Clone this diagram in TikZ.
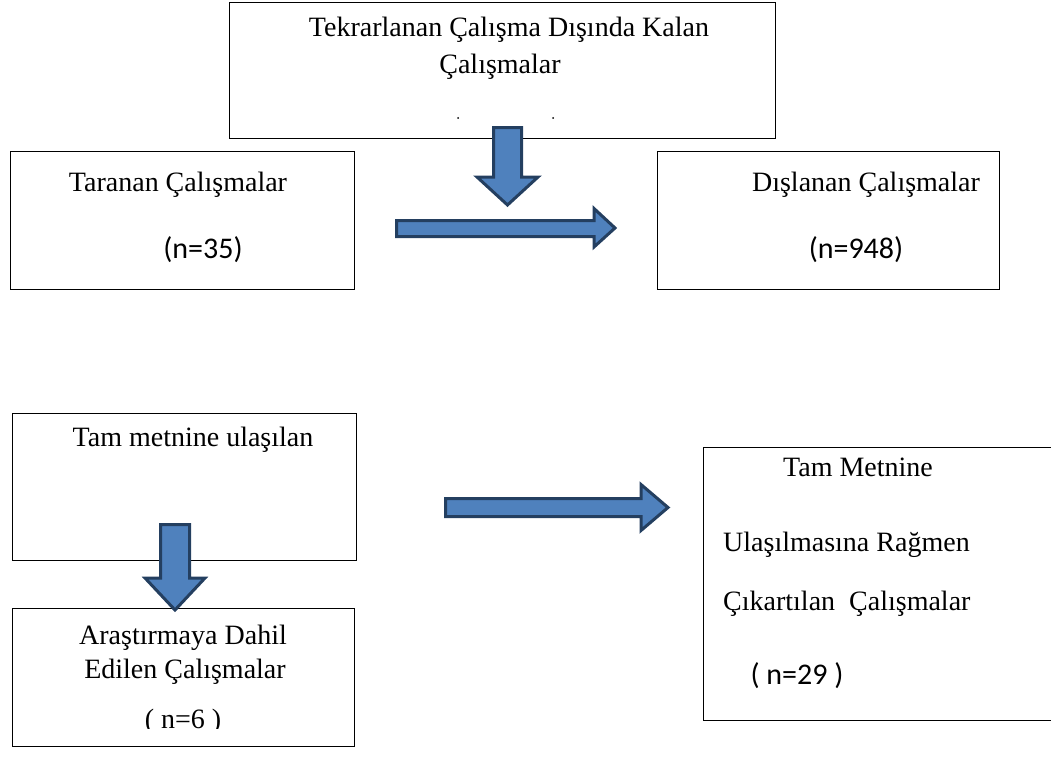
\documentclass[tikz,border=0pt]{standalone}
\usepackage{fontspec}
\setmainfont{Liberation Serif}
\newfontfamily\calib{Carlito}
\begin{document}
\begin{tikzpicture}[x=1pt,y=-1pt,
  box/.style={draw=black,line width=1pt,fill=none},
  txt/.style={inner sep=0pt,font=\fontsize{28}{32}\selectfont},
  ltxt/.style={txt,anchor=west},
  num/.style={inner sep=0pt,font=\calib\fontsize{30}{34}\selectfont},
  blockarrow/.style={draw=arrowline,fill=arrowfill,line width=3pt,line join=miter}]
\definecolor{arrowfill}{HTML}{4F81BD}
\definecolor{arrowline}{HTML}{243F60}
\useasboundingbox (0,0) rectangle (1051,757);
% boxes
\draw[box] (229,3) rectangle (775,138);
\draw[box] (10,151) rectangle (354,289);
\draw[box] (657,151) rectangle (999,289);
\draw[box] (12,413) rectangle (356,560);
\draw[box] (12,608) rectangle (354,746);
\draw[box] (1055,447) -- (703,447) -- (703,720) -- (1055,720);
% texts
\node[txt] (t1) at (509,30) {Tekrarlanan Çalışma Dışında Kalan};
\node[txt] (t2) at (500,67) {Çalışmalar};
\fill (458,118) circle (1);
\fill (553,118) circle (1);
\node[txt] (ta) at (178,185) {Taranan Çalışmalar};
\node[num] (tan) at (203,250) {(n=35)};
\node[txt] (di) at (866,185) {Dışlanan Çalışmalar};
\node[num] (din) at (856,250) {(n=948)};
\node[txt] (tm) at (193,440) {Tam metnine ulaşılan};
\node[txt] (ar1) at (183,638) {Araştırmaya Dahil};
\node[txt] (ar2) at (185,672) {Edilen Çalışmalar};
\begin{scope}
\clip (12,600) rectangle (354,728);
\node[txt] (arn) at (183,722) {( n=6 )};
\end{scope}
\node[txt] (r1) at (858,467) {Tam Metnine};
\node[ltxt] (r2) at (723,545) {Ulaşılmasına Rağmen};
\node[ltxt] (r3) at (723,604) {Çıkartılan\ \ Çalışmalar};
\node[num] (r4) at (797,676) {( n=29 )};
% block arrows
\draw[blockarrow] (493.5,127.5) -- (521.5,127.5) -- (521.5,177) -- (538,177) -- (507.5,205) -- (477,177) -- (493.5,177) -- cycle;
\draw[blockarrow] (396.5,220.5) -- (594,220.5) -- (594,208.5) -- (615,228) -- (594,247) -- (594,236.5) -- (396.5,236.5) -- cycle;
\draw[blockarrow] (160.5,524.5) -- (189.5,524.5) -- (189.5,578) -- (205,578) -- (175,610) -- (145,578) -- (160.5,578) -- cycle;
\draw[blockarrow] (445.5,498.5) -- (641,498.5) -- (641,484.5) -- (668,507.5) -- (641,530.5) -- (641,516.5) -- (445.5,516.5) -- cycle;
\end{tikzpicture}
\end{document}
